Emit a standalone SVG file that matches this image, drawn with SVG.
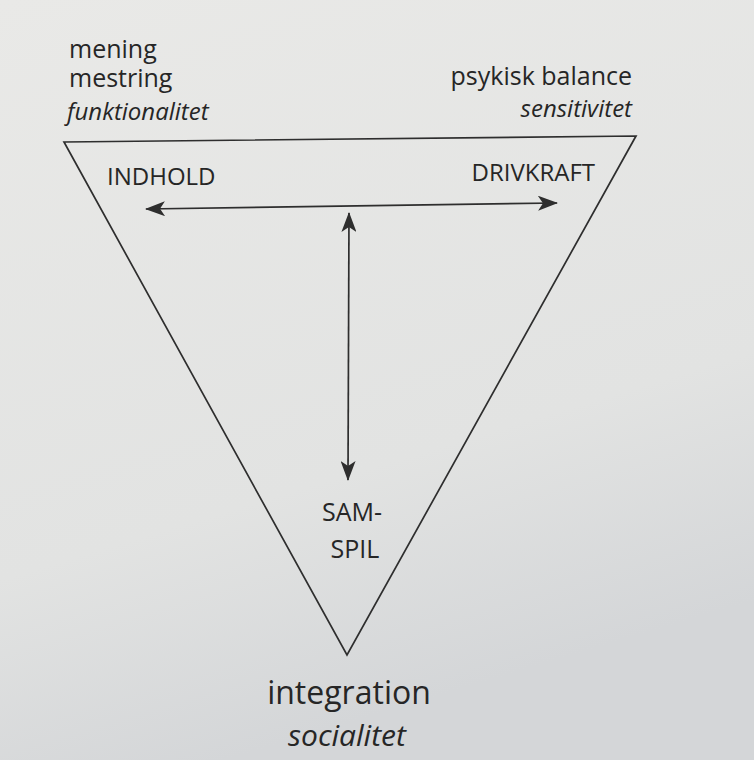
<svg xmlns="http://www.w3.org/2000/svg" width="754" height="760" viewBox="0 0 754 760">
<style>
.t{font-family:"Open Sans","Noto Sans","Liberation Sans",sans-serif;fill:#262626}
.i{font-style:italic}
.edge{fill:none;stroke:#2e2e2e;stroke-width:1.7}
</style>
<defs>
<linearGradient id="bg" x1="0" y1="0" x2="0.3" y2="1">
<stop offset="0" stop-color="#e9e9e7"/>
<stop offset="0.7" stop-color="#e2e3e2"/>
<stop offset="1" stop-color="#d4d6d8"/>
</linearGradient>
<marker id="ah2" viewBox="0 0 20 15" refX="19" refY="7.5" markerWidth="20" markerHeight="15" markerUnits="userSpaceOnUse" orient="auto-start-reverse">
<path d="M0,0 L20,7.5 L0,15 L5,7.5 Z" fill="#2e2e2e"/>
</marker>
</defs>
<rect width="754" height="760" fill="url(#bg)"/>
<g id="triangle">
<path class="edge" d="M64,142 L636,136 L347,655 Z"/>
</g>
<g id="connectors">
<line class="edge" x1="146" y1="209" x2="557" y2="203" marker-start="url(#ah2)" marker-end="url(#ah2)"/>
<line class="edge" x1="349" y1="213" x2="348" y2="480" marker-start="url(#ah2)" marker-end="url(#ah2)"/>
</g>
<g id="node-topleft">
<text class="t" x="69" y="58" font-size="25">mening</text>
<text class="t" x="69" y="87" font-size="25">mestring</text>
<text class="t i" x="67" y="120" font-size="24">funktionalitet</text>
</g>
<g id="node-topright">
<text class="t" x="632" y="85" font-size="25" text-anchor="end">psykisk balance</text>
<text class="t i" x="632" y="117" font-size="24" text-anchor="end">sensitivitet</text>
</g>
<g id="node-indhold">
<text class="t" x="107" y="185" font-size="24">INDHOLD</text>
</g>
<g id="node-drivkraft">
<text class="t" x="595" y="181" font-size="24" text-anchor="end">DRIVKRAFT</text>
</g>
<g id="node-samspil">
<text class="t" x="352" y="521" font-size="25" text-anchor="middle">SAM-</text>
<text class="t" x="355" y="558" font-size="25" text-anchor="middle">SPIL</text>
</g>
<g id="node-bottom">
<text class="t" x="349" y="704" font-size="32" text-anchor="middle">integration</text>
<text class="t i" x="347" y="746" font-size="30" text-anchor="middle">socialitet</text>
</g>
</svg>
